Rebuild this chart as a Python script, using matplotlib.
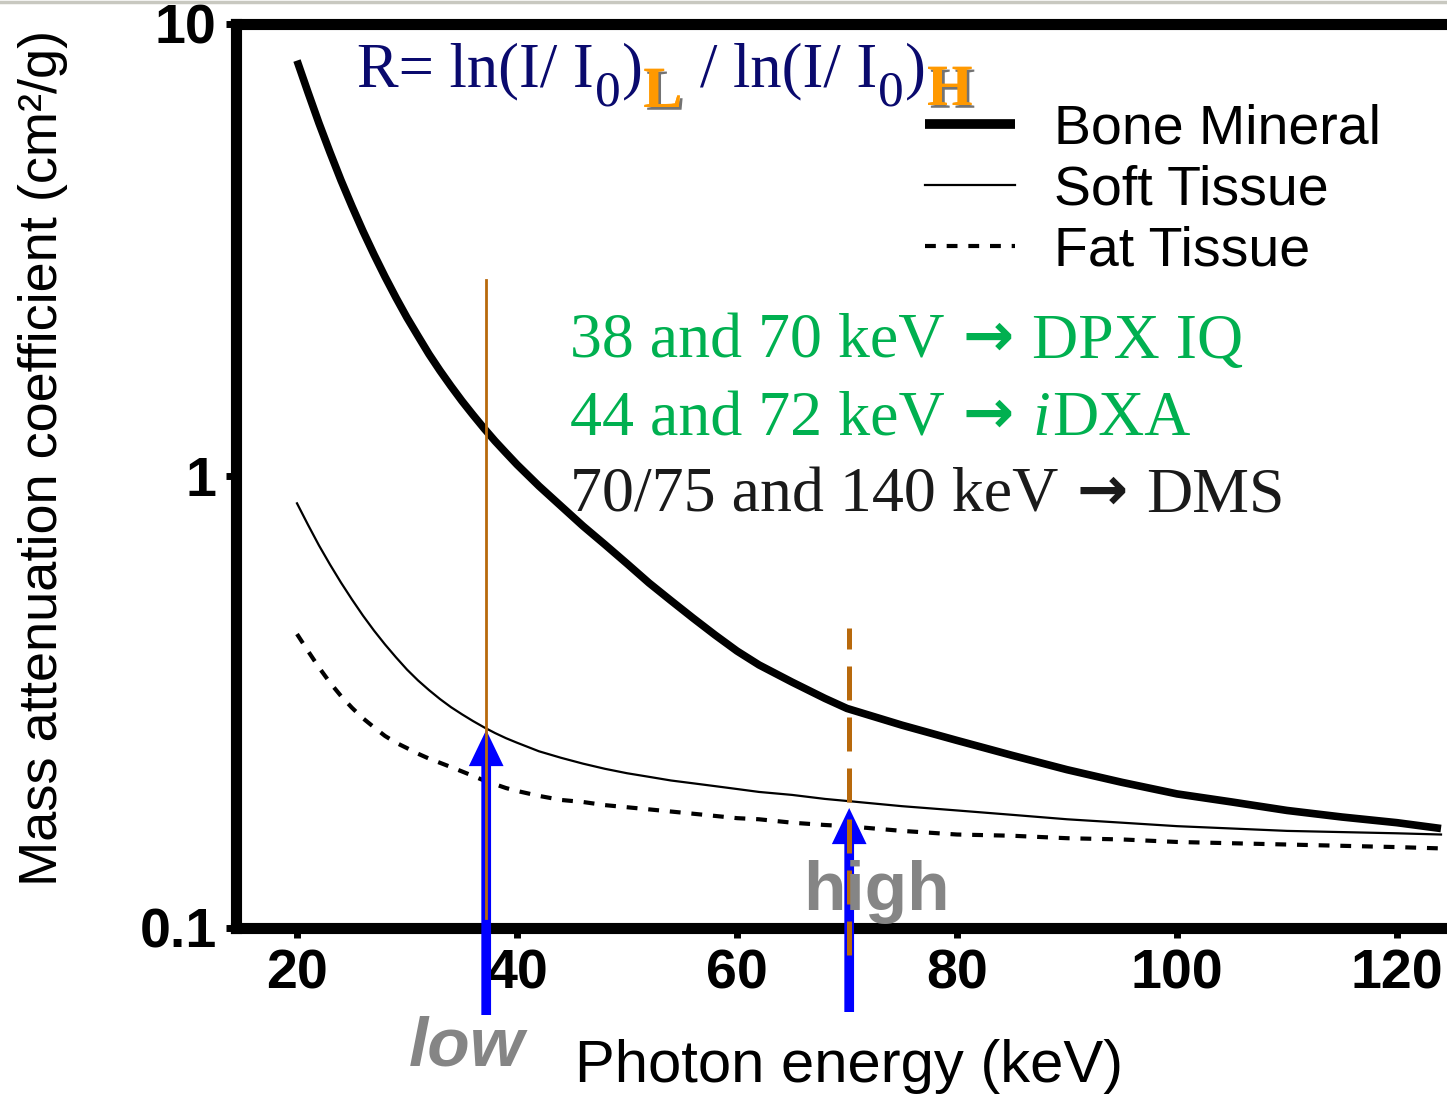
import matplotlib
matplotlib.use("Agg")
import matplotlib.pyplot as plt
import matplotlib.patheffects as pe
from matplotlib import font_manager
from matplotlib.lines import Line2D

W, H = 1447, 1095

# photon energy (keV) and mass attenuation coefficients (cm2/g)
energy = [20, 21, 22, 23, 24, 25, 26, 27, 28, 29, 30, 31, 32, 33, 34, 35, 36, 37, 38, 39, 40,
          42, 44, 46, 48, 50, 52, 54, 56, 58, 60, 62,
          65, 68, 70, 75, 80, 85, 90, 95, 100, 105, 110, 115, 120, 124]
bone = [8.3, 7.06, 6.03, 5.2, 4.51, 3.95, 3.48, 3.09, 2.76, 2.48, 2.24, 2.04, 1.86, 1.71, 1.58, 1.465,
        1.365, 1.275, 1.195, 1.125, 1.06,
        0.95, 0.858, 0.775, 0.705, 0.64, 0.58, 0.53, 0.485, 0.445, 0.41, 0.382,
        0.35, 0.322, 0.306, 0.281, 0.26, 0.241, 0.224, 0.21, 0.198, 0.19, 0.182, 0.176, 0.171, 0.166]
soft = [0.87, 0.78, 0.702, 0.637, 0.581, 0.533, 0.491, 0.455, 0.424, 0.397, 0.373, 0.353, 0.336, 0.321,
        0.308, 0.297, 0.287, 0.278, 0.27, 0.263, 0.257,
        0.246, 0.238, 0.231, 0.225, 0.22, 0.216, 0.212, 0.209, 0.206, 0.203, 0.20,
        0.197, 0.193, 0.191, 0.186, 0.182, 0.178, 0.174, 0.171, 0.168, 0.166, 0.164, 0.163, 0.162, 0.161]
fat = [0.447, 0.41, 0.377, 0.349, 0.326, 0.307, 0.291, 0.278, 0.266, 0.257, 0.25, 0.243, 0.237, 0.232,
       0.227, 0.222, 0.217, 0.212, 0.208, 0.204, 0.201,
       0.196, 0.192, 0.19, 0.187, 0.185, 0.183, 0.181, 0.179, 0.177, 0.175, 0.174,
       0.171, 0.169, 0.168, 0.164, 0.161, 0.16, 0.158, 0.157, 0.155, 0.154, 0.153, 0.152, 0.151, 0.15]
series_labels = ["Bone Mineral", "Soft Tissue", "Fat Tissue"]

low_kev = 37.2
high_kev = 70.2
x_ticks = [20, 40, 60, 80, 100, 120]
y_ticks = [0.1, 1, 10]
y_ticklabels = ["0.1", "1", "10"]

NAVY = "#0a0a6e"
ORANGE = "#FF9900"
GREEN = "#00B050"
LINE_ORANGE = "#B8690C"
GRAY = "#858585"
SANS = "Liberation Sans"
SERIF = "Liberation Serif"

names = {f.name for f in font_manager.fontManager.ttflist}
NARROW = "Liberation Sans Narrow" if "Liberation Sans Narrow" in names else None

fig = plt.figure(figsize=(W / 100, H / 100), dpi=100)
ax_left, ax_right, ax_top, ax_bottom = 236, 1447, 24, 928
ax = fig.add_axes([ax_left / W, 1 - ax_bottom / H, (ax_right - ax_left) / W, (ax_bottom - ax_top) / H])

px_per_kev = 11.0
x0 = 20 - (297 - ax_left) / px_per_kev
ax.set_xlim(x0, x0 + (ax_right - ax_left) / px_per_kev)
ax.set_yscale("log")
ax.set_ylim(0.1, 10)

ax.plot(energy, bone, color="black", lw=5.5, solid_capstyle="butt", solid_joinstyle="round",
        label=series_labels[0], zorder=3)
ax.plot(energy, soft, color="black", lw=1.6, label=series_labels[1], zorder=3)
ax.plot(energy, fat, color="black", lw=3.0, dashes=(2.6, 2.6), label=series_labels[2], zorder=3)

for side in ["left", "top", "bottom"]:
    ax.spines[side].set_linewidth(8)
ax.spines["right"].set_visible(False)

ax.set_xticks(x_ticks)
ax.set_xticklabels([str(t) for t in x_ticks])
ax.set_yticks(y_ticks)
ax.set_yticklabels(y_ticklabels)
ax.minorticks_off()
ax.tick_params(axis="both", direction="out", length=7, width=5, labelsize=40)
ax.tick_params(axis="x", pad=8)
ax.tick_params(axis="y", pad=7)
for lab in ax.get_xticklabels() + ax.get_yticklabels():
    lab.set_fontfamily(SANS)
    lab.set_fontweight("bold")

if NARROW:
    ax.set_ylabel("Mass attenuation coefficient (cm²/g)", fontsize=46, family=NARROW)
else:
    ax.set_ylabel("Mass attenuation coefficient (cm²/g)", fontsize=39, family=SANS)
ax.yaxis.set_label_coords(-168 / (ax_right - ax_left), 0.52)
ax.set_xlabel("Photon energy (keV)", fontsize=43, family=SANS)
ax.xaxis.set_label_coords((849 - ax_left) / (ax_right - ax_left), -(1067 - ax_bottom) / (ax_bottom - ax_top))
ax.xaxis.label.set_verticalalignment("center")

leg = ax.legend(loc="upper left", bbox_to_anchor=(925 / W, 1 - 103 / H), bbox_transform=fig.transFigure,
                frameon=False, prop={"family": SANS, "size": 40}, handlelength=1.62,
                handletextpad=0.7, labelspacing=0.17, borderpad=0, borderaxespad=0)
leg.get_lines()[0].set_linewidth(7)

# energy markers
ax.axvline(low_kev, ymin=(ax_bottom - 918) / (ax_bottom - ax_top), ymax=(ax_bottom - 280) / (ax_bottom - ax_top),
           color=LINE_ORANGE, lw=2, zorder=6)
ax.axvline(high_kev, ymin=-(955 - ax_bottom) / (ax_bottom - ax_top), ymax=(ax_bottom - 628) / (ax_bottom - ax_top),
           color=LINE_ORANGE, lw=3.6, dashes=(6.8, 3.4), clip_on=False, zorder=6)

arrow_style = dict(width=7, headwidth=25, headlength=26, facecolor="#0000FF", edgecolor="none", shrink=0)
for kev, tip_px, tail_px in [(low_kev, 730, 1015), (high_kev, 808, 1012)]:
    ax.annotate("", xy=(kev, (ax_bottom - tip_px) / (ax_bottom - ax_top)),
                xytext=(kev, (ax_bottom - tail_px) / (ax_bottom - ax_top)),
                xycoords=("data", "axes fraction"), textcoords=("data", "axes fraction"),
                arrowprops=arrow_style, annotation_clip=False, zorder=5)

fig.text(467 / W, 1 - 1065 / H, "low", fontsize=50, family=SANS, fontweight="bold", style="italic",
         color=GRAY, ha="center", va="baseline", zorder=4)
fig.text(876 / W, 1 - 910 / H, "high", fontsize=50, family=SANS, fontweight="bold",
         color=GRAY, ha="center", va="baseline", zorder=4)

fig.add_artist(Line2D([0, 1], [1 - 1.5 / H, 1 - 1.5 / H], color="#c8c8c0", lw=2.5))

renderer = fig.canvas.get_renderer()


def put_pieces(x_px, base_px, pieces):
    # lay text pieces side by side, starting at x_px (pixels from left)
    x = x_px
    for text, dy, gap, kw in pieces:
        x += gap
        t = fig.text(x / W, 1 - (base_px + dy) / H, text, ha="left", va="baseline", **kw)
        x += t.get_window_extent(renderer).width


big = dict(fontsize=45, family=SERIF, color=NAVY)
sub0 = dict(fontsize=37, family=SERIF, color=NAVY)
shadow = [pe.withSimplePatchShadow(offset=(2, -2), shadow_rgbFace="black", alpha=0.55), pe.Normal()]
subL = dict(fontsize=42, family=SERIF, color=ORANGE, fontweight="bold", path_effects=shadow)
put_pieces(357, 86, [
    ("R= ln(I/ I", 0, 0, big),
    ("0", 20, 1, sub0),
    (")", 0, 1, big),
    ("L", 21, 1, subL),
    ("/ ln(I/ I", 0, 18, big),
    ("0", 20, 1, sub0),
    (")", 0, 1, big),
    ("H", 19, 1, subL),
])

line_kw = dict(fontsize=46, family=SERIF)
arrow_kw = dict(fontsize=44, family=["DejaVu Sans"], fontweight="bold")
put_pieces(570, 358, [
    ("38 and 70 keV", 0, 0, dict(line_kw, color=GREEN)),
    ("→", -2, 18, dict(arrow_kw, color=GREEN)),
    ("DPX IQ", 0, 18, dict(line_kw, color=GREEN)),
])
put_pieces(570, 435, [
    ("44 and 72 keV", 0, 0, dict(line_kw, color=GREEN)),
    ("→", -2, 18, dict(arrow_kw, color=GREEN)),
    ("i", 0, 18, dict(line_kw, color=GREEN, style="italic")),
    ("DXA", 0, 2, dict(line_kw, color=GREEN)),
])
put_pieces(570, 512, [
    ("70/75 and 140 keV", 0, 0, dict(line_kw, color="#1a1a1a")),
    ("→", -2, 18, dict(arrow_kw, color="#1a1a1a")),
    ("DMS", 0, 18, dict(line_kw, color="#1a1a1a")),
])

fig.savefig("out.png", dpi=100)
